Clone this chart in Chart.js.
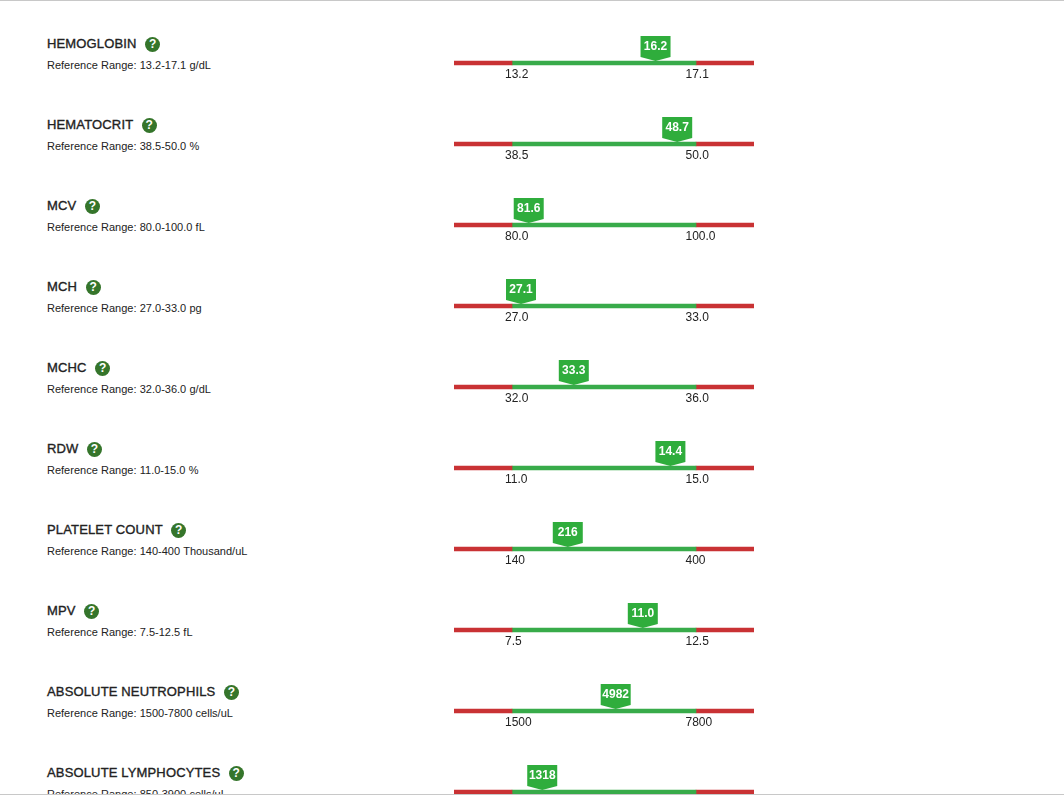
<!DOCTYPE html>
<html>
<head>
<meta charset="utf-8">
<title>Lab results</title>
<script src="https://cdn.jsdelivr.net/npm/chart.js@4"></script>
<style>
html, body { margin: 0; padding: 0; background: #fff; }
body { position: relative; width: 1064px; height: 795px; overflow: hidden; font-family: "Liberation Sans", Arial, sans-serif; color: #222; }
.line { position: absolute; left: 0; width: 1064px; height: 1px; background: #c8c8c8; z-index: 5; }
.label { position: absolute; left: 47px; white-space: nowrap; }
.name { font-size: 13px; height: 16px; line-height: 16px; letter-spacing: 0.15px; -webkit-text-stroke: 0.35px #222; }
.help { display: inline-block; width: 15px; height: 15px; line-height: 15px; border-radius: 50%; margin: 1px 0 0 8.5px; background: #35752b; color: #fff; font-size: 12px; font-weight: bold; text-align: center; vertical-align: top; letter-spacing: 0; -webkit-text-stroke: 0; }
.range { font-size: 11px; margin-top: 6px; line-height: 14px; word-spacing: 0.2px; }
canvas { position: absolute; left: 454px; }
</style>
</head>
<body>
<div class="line" style="top:0"></div>
<div class="line" style="top:794px"></div>
<script>
const testNames = ['HEMOGLOBIN', 'HEMATOCRIT', 'MCV', 'MCH', 'MCHC', 'RDW', 'PLATELET COUNT', 'MPV', 'ABSOLUTE NEUTROPHILS', 'ABSOLUTE LYMPHOCYTES'];
const units = ['g/dL', '%', 'fL', 'pg', 'g/dL', '%', 'Thousand/uL', 'fL', 'cells/uL', 'cells/uL'];
const rangeLow = [13.2, 38.5, 80, 27, 32, 11, 140, 7.5, 1500, 850];
const rangeHigh = [17.1, 50, 100, 33, 36, 15, 400, 12.5, 7800, 3900];
const results = [16.2, 48.7, 81.6, 27.1, 33.3, 14.4, 216, 11, 4982, 1318];
const decimals = [1, 1, 1, 1, 1, 1, 0, 1, 0, 0];

const rowPitch = 81;
const redShare = 58 / 184; // width of a red end, relative to the green part
const red = '#c93234';
const green = '#38ab4a';
const badgeGreen = '#2fad3c';

// badge sitting on top of the bar, pointing at the result
const badgePlugin = {
    id: 'badge',
    beforeDraw(chart) {
        // the upper range label sits a little further left than the lower one
        const items = chart.scales.x.getLabelItems(chart.chartArea);
        if (!items[1].moved) {
            items[1].options.translation[0] -= 3.5;
            items[1].moved = true;
        }
    },
    afterDatasetsDraw(chart, args, opts) {
        const { ctx, scales } = chart;
        const x = Math.max(scales.x.getPixelForValue(opts.value) + 2, scales.x.getPixelForValue(opts.low) + 9);
        const tip = scales.y.getPixelForValue(0) - 2;
        ctx.save();
        ctx.fillStyle = badgeGreen;
        ctx.beginPath();
        ctx.moveTo(x - 15, 6);
        ctx.lineTo(x + 15, 6);
        ctx.lineTo(x + 15, 27);
        ctx.lineTo(x, tip);
        ctx.lineTo(x - 15, 27);
        ctx.closePath();
        ctx.fill();
        ctx.fillStyle = '#fff';
        ctx.font = 'bold 12px "Liberation Sans", Arial, sans-serif';
        ctx.textAlign = 'center';
        ctx.textBaseline = 'middle';
        ctx.fillText(opts.text, x, 16.5);
        ctx.restore();
    }
};

testNames.forEach(function (name, i) {
    const low = rangeLow[i], high = rangeHigh[i], d = decimals[i];
    const pad = (high - low) * redShare;
    const axisMin = low - pad, axisMax = high + pad;

    const label = document.createElement('div');
    label.className = 'label';
    label.style.top = (36 + i * rowPitch) + 'px';
    const title = document.createElement('div');
    title.className = 'name';
    title.textContent = name;
    const help = document.createElement('span');
    help.className = 'help';
    help.textContent = '?';
    title.appendChild(help);
    const range = document.createElement('div');
    range.className = 'range';
    range.textContent = 'Reference Range: ' + low.toFixed(d) + '-' + high.toFixed(d) + ' ' + units[i];
    label.appendChild(title);
    label.appendChild(range);
    document.body.appendChild(label);

    const canvas = document.createElement('canvas');
    canvas.width = 300;
    canvas.height = 54;
    canvas.style.top = (30 + i * rowPitch) + 'px';
    document.body.appendChild(canvas);

    new Chart(canvas.getContext('2d'), {
        type: 'bar',
        data: {
            labels: [name],
            datasets: [
                { data: [[axisMin, low]], backgroundColor: red },
                { data: [[low, high]], backgroundColor: green },
                { data: [[high, axisMax]], backgroundColor: red }
            ]
        },
        options: {
            indexAxis: 'y',
            responsive: false,
            animation: false,
            devicePixelRatio: 1,
            barThickness: 4,
            layout: { padding: { top: 29 } },
            scales: {
                x: {
                    type: 'linear',
                    min: axisMin,
                    max: axisMax,
                    stacked: false,
                    grid: { display: false, drawTicks: false },
                    border: { display: false },
                    afterBuildTicks(scale) {
                        scale.ticks = [{ value: low }, { value: high }];
                    },
                    afterFit(scale) {
                        scale.height = 17;
                    },
                    ticks: {
                        autoSkip: false,
                        maxRotation: 0,
                        align: 'start',
                        labelOffset: -7,
                        padding: 0,
                        color: '#222',
                        font: { family: '"Liberation Sans", Arial, sans-serif', size: 12 },
                        callback(value) {
                            return Number(value).toFixed(d);
                        }
                    }
                },
                y: { display: false, stacked: true }
            },
            plugins: {
                legend: { display: false },
                tooltip: { enabled: false },
                badge: { value: results[i], low: low, text: results[i].toFixed(d) }
            }
        },
        plugins: [badgePlugin]
    });
});
</script>
</body>
</html>
